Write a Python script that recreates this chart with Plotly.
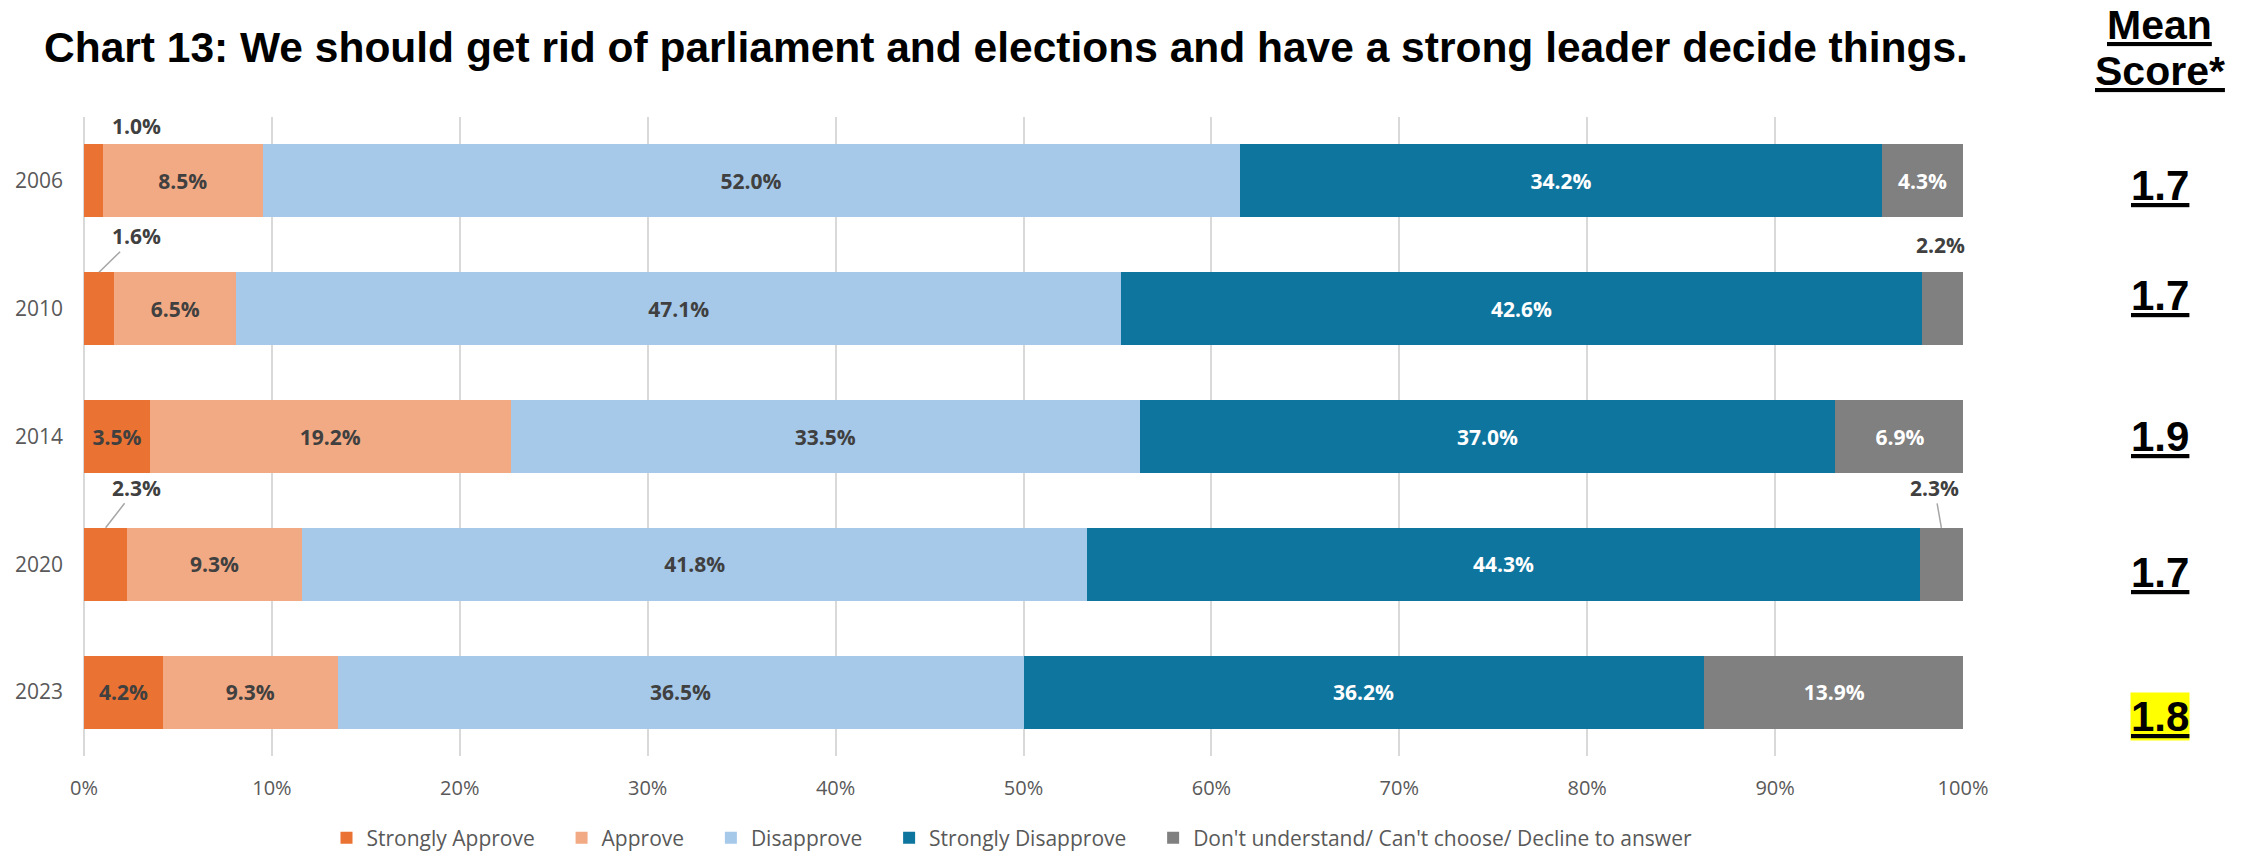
import plotly.graph_objects as go

# Survey responses by year (percent of respondents)
years = ["2006", "2010", "2014", "2020", "2023"]
strongly_approve = [1.0, 1.6, 3.5, 2.3, 4.2]
approve = [8.5, 6.5, 19.2, 9.3, 9.3]
disapprove = [52.0, 47.1, 33.5, 41.8, 36.5]
strongly_disapprove = [34.2, 42.6, 37.0, 44.3, 36.2]
dont_know = [4.3, 2.2, 6.9, 2.3, 13.9]
mean_scores = [1.7, 1.7, 1.9, 1.7, 1.8]

series_names = [
    "Strongly Approve",
    "Approve",
    "Disapprove",
    "Strongly Disapprove",
    "Don't understand/ Can't choose/ Decline to answer",
]
series_values = [strongly_approve, approve, disapprove, strongly_disapprove, dont_know]
colors = ["#EA7232", "#F2AA84", "#A6C9EA", "#0E759E", "#808080"]
label_colors = ["#404040", "#404040", "#404040", "#FFFFFF", "#FFFFFF"]

LABEL_FONT = "Open Sans"
HEAD_FONT = "Liberation Sans, Arial, sans-serif"
SMALL = 3.0  # segments narrower than this get their label placed outside
LEGEND_PAD = "\u00a0" * 4  # extra room between legend entries

fig = go.Figure()
for i, (name, vals, col, lcol) in enumerate(zip(series_names, series_values, colors, label_colors)):
    fig.add_trace(go.Bar(
        y=years, x=vals,
        name=name + (LEGEND_PAD if i < len(series_names) - 1 else ""),
        orientation="h",
        marker=dict(color=col, line=dict(width=0)),
        text=[f"{v:.1f}%" if v >= SMALL else "" for v in vals],
        texttemplate="%{text}",
        textposition="inside", insidetextanchor="middle",
        constraintext="none",
        textfont=dict(family=LABEL_FONT, size=21, color=lcol, weight="bold"),
        hoverinfo="skip",
    ))

# Outside labels for thin segments: (series index, year index) -> placement
# arrow: (ax, ay) from the bar's top edge; plain: (dx, dy) from the bar centre
outside = {
    (0, 0): dict(arrow=None, shift=(43, 55)),
    (0, 1): dict(arrow=(37, -36), shift=None),
    (4, 1): dict(arrow=None, shift=(-2, 64)),
    (0, 3): dict(arrow=(31, -40), shift=None),
    (4, 3): dict(arrow=(-7, -40), shift=None),
}
annotations = []
for (si, yi), spec in outside.items():
    val = series_values[si][yi]
    start = sum(series_values[k][yi] for k in range(si))
    mid = start + val / 2
    # category axes take the category's serial number for annotation positions
    common = dict(x=mid, y=yi, xref="x", yref="y", text=f"{val:.1f}%",
                  xanchor="center", yanchor="middle",
                  font=dict(family=LABEL_FONT, size=21, color="#404040", weight="bold"))
    if spec["arrow"]:
        ax, ay = spec["arrow"]
        annotations.append(dict(**common, showarrow=True, arrowhead=0, arrowwidth=1.5,
                                arrowcolor="#A6A6A6", ax=ax, ay=ay, yshift=36.5))
    else:
        dx, dy = spec["shift"]
        annotations.append(dict(**common, showarrow=False, xshift=dx, yshift=dy))

# Mean score column header, one line per annotation
MEAN_X = 1.1048
for word, shift in (("Mean", 92), ("Score*", 46)):
    annotations.append(dict(
        x=MEAN_X, y=1.0, xref="paper", yref="paper",
        xanchor="center", yanchor="middle", yshift=shift,
        text=word, showarrow=False,
        font=dict(family=HEAD_FONT, size=41, color="#000000", weight="bold", lineposition="under"),
    ))
mean_nudge = [-5, 13, 0, -8, -24]
for yi, (m, nd) in enumerate(zip(mean_scores, mean_nudge)):
    annotations.append(dict(
        x=MEAN_X, y=yi, xref="paper", yref="y",
        xanchor="center", yanchor="middle", yshift=nd,
        text=f"{m:.1f}", showarrow=False, borderpad=0,
        bgcolor="#FFFF00" if years[yi] == "2023" else "rgba(0,0,0,0)",
        font=dict(family=HEAD_FONT, size=42, color="#000000", weight="bold", lineposition="under"),
    ))

fig.update_layout(
    width=2254, height=852, autosize=False,
    margin=dict(l=84, r=291, t=117, b=96),
    paper_bgcolor="white", plot_bgcolor="white",
    barmode="stack", bargap=0.43,
    title=dict(
        text="Chart 13: We should get rid of parliament and elections and have a strong leader decide things.",
        x=0.4463, xref="container", xanchor="center",
        y=1 - 47 / 852, yref="container", yanchor="middle",
        font=dict(family=HEAD_FONT, size=42.5, color="#000000", weight="bold"),
    ),
    xaxis=dict(
        range=[0, 100], autorange=False, dtick=10, ticksuffix="%", showline=False,
        showgrid=True, gridcolor="#D9D9D9", gridwidth=2,
        zeroline=True, zerolinecolor="#D9D9D9", zerolinewidth=2,
        tickfont=dict(family=LABEL_FONT, size=20, color="#595959"),
        ticklabelstandoff=18, fixedrange=True, automargin=False,
    ),
    yaxis=dict(
        type="category",
        categoryorder="array", categoryarray=years,
        range=[len(years) - 0.5, -0.5], autorange=False,
        showline=False, showgrid=False, zeroline=False,
        tickfont=dict(family=LABEL_FONT, size=21, color="#595959"),
        ticklabelstandoff=20, fixedrange=True, automargin=False,
    ),
    legend=dict(
        orientation="h", x=1012 / 2254, xref="container", xanchor="center",
        y=1 - 838 / 852, yref="container", yanchor="middle",
        font=dict(family=LABEL_FONT, size=21, color="#595959"),
        itemwidth=30, traceorder="normal",
    ),
    annotations=annotations,
    showlegend=True,
)

fig.write_html("out.html")
